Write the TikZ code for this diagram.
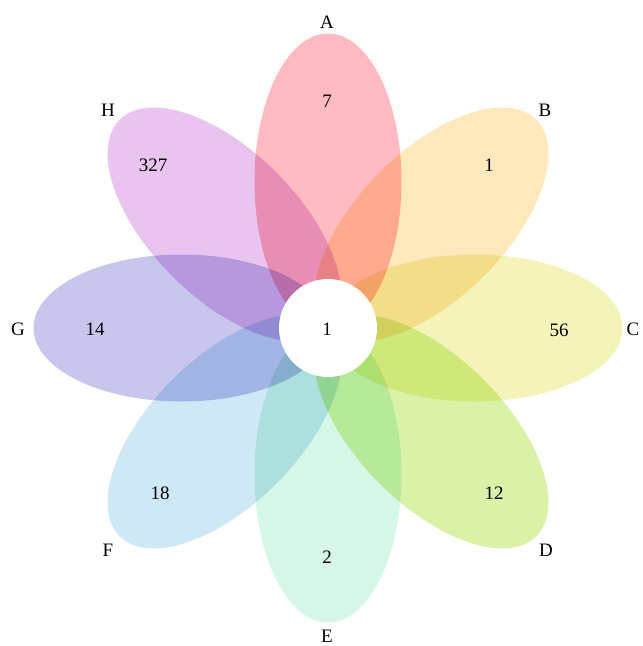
\documentclass[tikz,border=0pt]{standalone}
\usepackage{fontspec}
\setmainfont{Liberation Serif}
\definecolor{cA}{RGB}{255,186,194}
\definecolor{cB}{RGB}{255,232,188}
\definecolor{cC}{RGB}{244,244,186}
\definecolor{cD}{RGB}{218,242,168}
\definecolor{cE}{RGB}{214,246,232}
\definecolor{cF}{RGB}{206,232,245}
\definecolor{cG}{RGB}{200,198,237}
\definecolor{cH}{RGB}{232,196,239}
\tikzset{
  petal/.style={fill=#1},
  lbl/.style={font=\fontsize{19}{22}\selectfont, inner sep=0pt, anchor=center},
}
\begin{document}
\begin{tikzpicture}[x=1pt,y=1pt]
\useasboundingbox (0,0) rectangle (643,-646);
\fill[white] (0,0) rectangle (643,-646);
\begin{scope}[blend group=multiply]
\foreach \ang/\col in {90/cA,45/cB,0/cC,-45/cD,-90/cE,-135/cF,180/cG,135/cH}{
  \begin{scope}[shift={(328,-328)}, rotate=\ang]
    \fill[petal=\col] (146.5,0) ellipse [x radius=148, y radius=73.5];
  \end{scope}
}
\end{scope}
\fill[white] (328,-328) circle [radius=49];
\node[lbl] (la) at (327,-22) {A};
\node[lbl] (lb) at (545,-110) {B};
\node[lbl] (lc) at (633,-329) {C};
\node[lbl] (ld) at (546,-550) {D};
\node[lbl] (le) at (327,-636) {E};
\node[lbl] (lf) at (108,-550) {F};
\node[lbl] (lg) at (18,-329) {G};
\node[lbl] (lh) at (108,-110) {H};
\node[lbl] (na) at (327,-101) {7};
\node[lbl] (nb) at (489,-165) {1};
\node[lbl] (nc) at (559,-330) {56};
\node[lbl] (nd) at (494,-493) {12};
\node[lbl] (ne) at (327,-557) {2};
\node[lbl] (nf) at (160,-493) {18};
\node[lbl] (ng) at (95,-329) {14};
\node[lbl] (nh) at (153,-165) {327};
\node[lbl] (n0) at (327,-329) {1};
\end{tikzpicture}
\end{document}
